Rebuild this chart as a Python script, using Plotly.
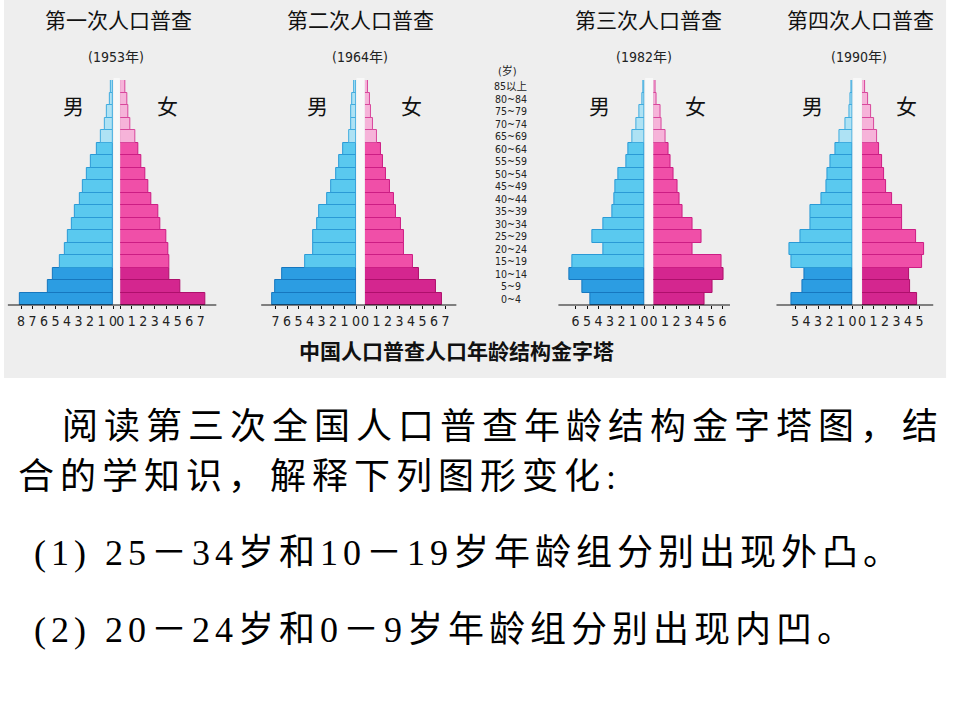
import plotly.graph_objects as go

# ---------------- data ----------------
ages = ["0~4", "5~9", "10~14", "15~19", "20~24", "25~29", "30~34", "35~39", "40~44",
        "45~49", "50~54", "55~59", "60~64", "65~69", "70~74", "75~79", "80~84", "85以上"]

census_titles = ["第一次人口普查", "第二次人口普查", "第三次人口普查", "第四次人口普查"]
census_years = ["(1953年)", "(1964年)", "(1982年)", "(1990年)"]

male_1953 = [8.1, 5.7, 5.2, 4.6, 4.2, 3.9, 3.6, 3.3, 2.9, 2.6, 2.3, 1.9, 1.4, 1.1, 0.7, 0.5, 0.3, 0.2]
female_1953 = [7.4, 5.2, 4.3, 4.3, 4.2, 4.0, 3.5, 3.3, 2.7, 2.4, 2.2, 1.8, 1.6, 1.3, 0.9, 0.7, 0.6, 0.4]
male_1964 = [7.3, 7.0, 6.4, 4.4, 3.7, 3.7, 3.4, 3.2, 2.5, 2.2, 1.7, 1.5, 1.1, 0.6, 0.4, 0.4, 0.3, 0.2]
female_1964 = [6.7, 6.2, 4.7, 4.2, 3.4, 3.4, 3.1, 2.7, 2.5, 2.2, 1.8, 1.6, 1.4, 1.0, 0.7, 0.5, 0.4, 0.3]
male_1982 = [4.7, 5.4, 6.5, 6.3, 3.6, 4.5, 3.6, 2.8, 2.6, 2.5, 2.3, 1.6, 1.4, 1.1, 0.7, 0.5, 0.2, 0.1]
female_1982 = [4.4, 5.1, 6.1, 5.9, 3.4, 4.2, 3.4, 2.5, 2.3, 2.1, 1.7, 1.5, 1.3, 1.0, 0.7, 0.6, 0.3, 0.2]
male_1990 = [5.3, 4.4, 4.2, 5.3, 5.5, 4.5, 3.7, 3.7, 2.7, 2.3, 2.2, 1.9, 1.5, 1.1, 0.6, 0.3, 0.2, 0.1]
female_1990 = [4.8, 4.2, 4.1, 5.2, 5.4, 4.7, 3.5, 3.5, 2.6, 2.1, 1.9, 1.7, 1.5, 1.3, 1.0, 0.8, 0.5, 0.3]

male_series = [male_1953, male_1964, male_1982, male_1990]
female_series = [female_1953, female_1964, female_1982, female_1990]
male_tick_max = [8, 7, 6, 5]
female_tick_max = [7, 7, 6, 5]

caption = "中国人口普查人口年龄结构金字塔"
text_lines = [
    "阅读第三次全国人口普查年龄结构金字塔图，结",
    "合的学知识，解释下列图形变化:",
    "(1) 25－34岁和10－19岁年龄组分别出现外凸。",
    "(2) 20－24岁和0－9岁年龄组分别出现内凹。",
]

# ---------------- layout geometry (pixels) ----------------
W, H = 960, 720
UNIT = 11.6
zero_m = [110, 355, 646, 855.7]
zero_f = [117.3, 364, 655, 865.3]
ext_m = [8.8, 7.9, 7.15, 6.27]
ext_f = [8.0, 7.6, 6.3, 5.84]
bar_top, bar_bottom = 80, 305


def px(x):
    return x / W


def py(y):
    return 1 - y / H


def age_group(i):
    if i <= 2:
        return 0
    if i <= 12:
        return 1
    return 2


male_fill = ["#2c9de2", "#5ac9ef", "#aee2f4"]
male_edge = ["#1677bf", "#2a9ad6", "#40acdf"]
female_fill = ["#d4268f", "#f04fa8", "#f6b3d9"]
female_edge = ["#ae0f6c", "#cc1d84", "#d8479c"]

tick_font = dict(family="Liberation Sans Narrow, Arial Narrow, DejaVu Sans Condensed, Roboto, sans-serif",
                 size=14, color="#222")

fig = go.Figure()
layout_axes = {}
shapes = [dict(type="rect", xref="paper", yref="paper", x0=0, x1=px(950), y0=py(378), y1=1,
               fillcolor="#eeeeee", line=dict(width=0), layer="below")]

for k in range(4):
    xm = "x" if k == 0 else f"x{2 * k + 1}"
    xf = f"x{2 * k + 2}"
    grp = [age_group(i) for i in range(len(ages))]
    # light gap between the two halves
    shapes.append(dict(type="rect", xref="paper", yref="paper",
                       x0=px(zero_m[k] + 0.5), x1=px(zero_f[k] - 0.5), y0=py(bar_bottom), y1=py(bar_top - 2),
                       fillcolor="#f8f8f8", line=dict(width=0), layer="below"))
    fig.add_trace(go.Bar(
        y=ages, x=male_series[k], orientation="h", xaxis=xm, yaxis="y",
        marker=dict(color=[male_fill[g] for g in grp],
                    line=dict(color=[male_edge[g] for g in grp], width=1)),
        showlegend=False, hoverinfo="x+y"))
    fig.add_trace(go.Bar(
        y=ages, x=female_series[k], orientation="h", xaxis=xf, yaxis="y",
        marker=dict(color=[female_fill[g] for g in grp],
                    line=dict(color=[female_edge[g] for g in grp], width=1)),
        showlegend=False, hoverinfo="x+y"))

    m_left = zero_m[k] - ext_m[k] * UNIT
    f_right = zero_f[k] + ext_f[k] * UNIT
    mkey = "xaxis" if k == 0 else f"xaxis{2 * k + 1}"
    fkey = f"xaxis{2 * k + 2}"
    mt = list(range(male_tick_max[k] + 1))
    ft = list(range(female_tick_max[k] + 1))
    layout_axes[mkey] = dict(domain=[px(m_left), px(zero_m[k])], range=[ext_m[k], 0], anchor="y",
                             showgrid=False, zeroline=False, showline=False,
                             tickmode="array", tickvals=mt, ticktext=[str(v) for v in mt],
                             ticks="outside", ticklen=3, tickcolor="#111", tickwidth=1,
                             tickfont=tick_font, fixedrange=True)
    layout_axes[fkey] = dict(domain=[px(zero_f[k]), px(f_right)], range=[0, ext_f[k]], anchor="y",
                             showgrid=False, zeroline=False, showline=False,
                             tickmode="array", tickvals=ft, ticktext=[str(v) for v in ft],
                             ticks="outside", ticklen=3, tickcolor="#111", tickwidth=1,
                             tickfont=tick_font, fixedrange=True)
    shapes.append(dict(type="line", xref="paper", yref="paper",
                       x0=px(m_left - 4), x1=px(f_right + 4), y0=py(bar_bottom), y1=py(bar_bottom),
                       line=dict(color="#111", width=1.2)))

annotations = []
title_cx = [115, 359, 650, 864]
year_cx = [113, 359, 645, 862]
nan_x = [70, 316, 600, 815]
nv_x = [165, 411, 697, 910]
cjk = "Noto Sans CJK SC, sans-serif"
narrow = "Liberation Sans Narrow, Arial Narrow, DejaVu Sans Condensed, Noto Sans CJK SC, sans-serif"
for k in range(4):
    annotations.append(dict(text=census_titles[k], x=px(title_cx[k]), y=py(19), xref="paper", yref="paper",
                            showarrow=False, xanchor="center", yanchor="middle",
                            font=dict(family=cjk, size=21, color="#111")))
    annotations.append(dict(text=census_years[k], x=px(year_cx[k]), y=py(57), xref="paper", yref="paper",
                            showarrow=False, xanchor="center", yanchor="middle",
                            font=dict(family=narrow, size=14, color="#222")))
    annotations.append(dict(text="男", x=px(nan_x[k]), y=py(105), xref="paper", yref="paper",
                            showarrow=False, xanchor="center", yanchor="middle",
                            font=dict(family=cjk, size=21, color="#111")))
    annotations.append(dict(text="女", x=px(nv_x[k]), y=py(105), xref="paper", yref="paper",
                            showarrow=False, xanchor="center", yanchor="middle",
                            font=dict(family=cjk, size=21, color="#111")))

# age labels in the middle column
annotations.append(dict(text="(岁)", x=px(508), y=py(71), xref="paper", yref="paper",
                        showarrow=False, xanchor="center", yanchor="middle", borderpad=0,
                        font=dict(family=narrow, size=11, color="#222")))
for a in ages:
    annotations.append(dict(text=a, x=px(511), y=a, xref="paper", yref="y",
                            showarrow=False, xanchor="center", yanchor="middle", borderpad=0,
                            font=dict(family=narrow, size=10.5, color="#222")))

annotations.append(dict(text=caption, x=px(456), y=py(350), xref="paper", yref="paper",
                        showarrow=False, xanchor="center", yanchor="middle",
                        font=dict(family=cjk, size=21, color="#111", weight="bold")))

body_font = "Liberation Serif, Noto Sans CJK SC, serif"
line_pos = [(56, 427, 6), (12, 477, 6), (28, 553, 5), (28, 630, 5)]
for t, (lx, ly, ls) in zip(text_lines, line_pos):
    annotations.append(dict(text=f'<span style="letter-spacing:{ls}px">{t}</span>',
                            x=px(lx), y=py(ly), xref="paper", yref="paper",
                            showarrow=False, xanchor="left", yanchor="middle",
                            font=dict(family=body_font, size=36, color="#000")))

fig.update_layout(
    width=W, height=H, margin=dict(l=0, r=0, t=0, b=0),
    paper_bgcolor="#ffffff", plot_bgcolor="rgba(0,0,0,0)",
    bargap=0, showlegend=False,
    yaxis=dict(domain=[py(bar_bottom), py(bar_top)], type="category", categoryorder="array",
               categoryarray=ages, range=[-0.5, 17.5], visible=False, anchor="x", fixedrange=True),
    shapes=shapes, annotations=annotations,
    **layout_axes,
)

fig.write_html("out.html",
               config={"displayModeBar": False},
               post_script="document.body.style.margin='0';document.body.style.padding='0';"
                           "document.body.style.overflow='hidden';")
